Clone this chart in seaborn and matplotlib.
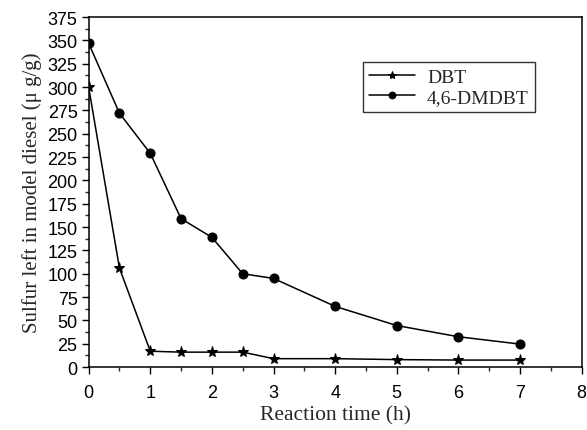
import matplotlib
matplotlib.use("Agg")
import matplotlib.pyplot as plt
import seaborn as sns
import pandas as pd
from matplotlib.ticker import MultipleLocator

time_h = [0, 0.5, 1, 1.5, 2, 2.5, 3, 4, 5, 6, 7]
dbt = [300, 106, 17, 16, 16, 16, 9, 9, 8, 7.5, 7.5]
dmdbt = [347, 272, 229, 159, 139, 100, 95, 65, 44.5, 32.5, 24.6]
series_names = ["DBT", "4,6-DMDBT"]

sns.set_style("ticks")
plt.rcParams['font.family'] = ['Liberation Sans', 'DejaVu Sans']

fig = plt.figure(figsize=(5.87, 4.31), dpi=100)
ax = fig.add_axes([0.151, 0.146, 0.840, 0.812])

df1 = pd.DataFrame({"t": time_h, "s": dbt})
df2 = pd.DataFrame({"t": time_h, "s": dmdbt})
sns.lineplot(data=df1, x="t", y="s", ax=ax, color="black", marker="*",
             markersize=8, linewidth=1.1, label=series_names[0],
             markeredgecolor="black")
sns.lineplot(data=df2, x="t", y="s", ax=ax, color="black", marker="o",
             markersize=6.5, linewidth=1.1, label=series_names[1],
             markeredgecolor="black")

ax.set_xlim(0, 8)
ax.set_ylim(0, 375)
ax.xaxis.set_major_locator(MultipleLocator(1))
ax.xaxis.set_minor_locator(MultipleLocator(0.5))
ax.yaxis.set_major_locator(MultipleLocator(25))
ax.yaxis.set_minor_locator(MultipleLocator(12.5))
ax.tick_params(axis="both", which="major", direction="out", length=5, width=1,
               labelsize=13, colors="black", pad=3)
ax.tick_params(axis="x", which="major", pad=7)
ax.tick_params(axis="both", which="minor", direction="out", length=3, width=1)
for sp in ax.spines.values():
    sp.set_visible(True)
    sp.set_linewidth(1.1)
    sp.set_color("black")

ax.set_xlabel("Reaction time (h)", family="Liberation Serif", fontsize=15.5, labelpad=3)
ax.set_ylabel("Sulfur left in model diesel (\u03bc g/g)", family="Liberation Serif",
              fontsize=15, labelpad=4)

leg = ax.legend(loc="upper left", bbox_to_anchor=(0.556, 0.871), frameon=True,
                fancybox=False, edgecolor="black", prop={"family": "Liberation Serif", "size": 14},
                handlelength=2.4, borderpad=0.3, labelspacing=0.15, handletextpad=0.6,
                borderaxespad=0, markerscale=0.75)
leg.get_frame().set_linewidth(1.0)

fig.savefig("out.png", dpi=100)
